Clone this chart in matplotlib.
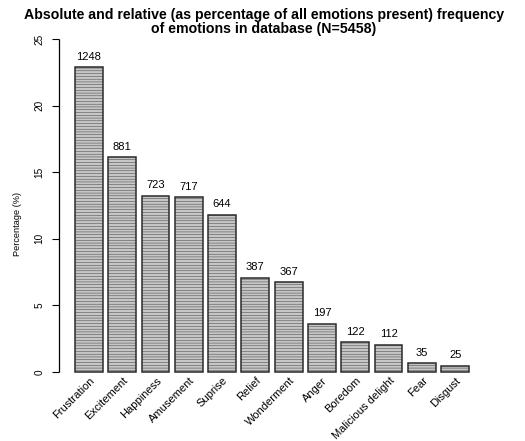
import matplotlib
matplotlib.use("Agg")
import matplotlib.pyplot as plt

# Emotion frequencies (counts) in the database
emotions = ["Frustration", "Excitement", "Happiness", "Amusement", "Suprise",
            "Relief", "Wonderment", "Anger", "Boredom", "Malicious delight",
            "Fear", "Disgust"]
counts = [1248, 881, 723, 717, 644, 387, 367, 197, 122, 112, 35, 25]
total_n = 5458
y_ticks = [0, 5, 10, 15, 20, 25]

percentages = [100.0 * c / total_n for c in counts]

plt.rcParams["font.family"] = ["Liberation Sans", "DejaVu Sans"]
plt.rcParams["hatch.color"] = "#bababa"
plt.rcParams["hatch.linewidth"] = 0.3

W, H, DPI = 525, 441, 100
fig = plt.figure(figsize=(W / DPI, H / DPI), dpi=DPI)

# plot region (pixel based)
left_px, right_px = 59.2, 484.8
top_px, bottom_px = 25.7, 385.3
ax = fig.add_axes([left_px / W, 1 - bottom_px / H,
                   (right_px - left_px) / W, (bottom_px - top_px) / H])

# R-style barplot geometry: width 1, space 0.2
centers = [0.7 + 1.2 * i for i in range(len(counts))]
ax.bar(centers, percentages, width=1.0, color="#c6c6c6",
       edgecolor="#2b2b2b", linewidth=1.1, hatch="------")
ax.set_xlim(-0.368, 14.968)
ax.set_ylim(-1, 26)

for sp in ax.spines.values():
    sp.set_visible(False)

# left axis only spans the tick range
ax.plot([-0.368, -0.368], [0, 25], color="black", lw=0.9,
        clip_on=False, solid_capstyle="butt")
ax.set_yticks(y_ticks)
ax.set_yticklabels([str(t) for t in y_ticks], rotation=90, va="center",
                   fontsize=7.2)
ax.tick_params(axis="y", length=5.2, width=0.8, pad=5.5)
ax.set_xticks([])

# count labels above bars
for x, p, c in zip(centers, percentages, counts):
    ax.annotate(str(c), (x, p), xytext=(0, 5.4), textcoords="offset points",
                ha="center", va="baseline", fontsize=8)

# rotated category labels
for x, name in zip(centers, emotions):
    ax.text(x + 0.02, -0.25, name, rotation=45, rotation_mode="anchor",
            ha="right", va="top", fontsize=8)

# titles and y label
fig.text(264 / W, 1 - 18.5 / H,
         "Absolute and relative (as percentage of all emotions present) frequency",
         ha="center", va="baseline", fontsize=10.2, fontweight="bold")
fig.text(264 / W, 1 - 32.5 / H, "of emotions in database (N=5458)",
         ha="center", va="baseline", fontsize=10.2, fontweight="bold")
fig.text(17 / W, 1 - 224 / H, "Percentage (%)", rotation=90,
         ha="center", va="center", fontsize=6.6)

fig.savefig("out.png", dpi=DPI)
